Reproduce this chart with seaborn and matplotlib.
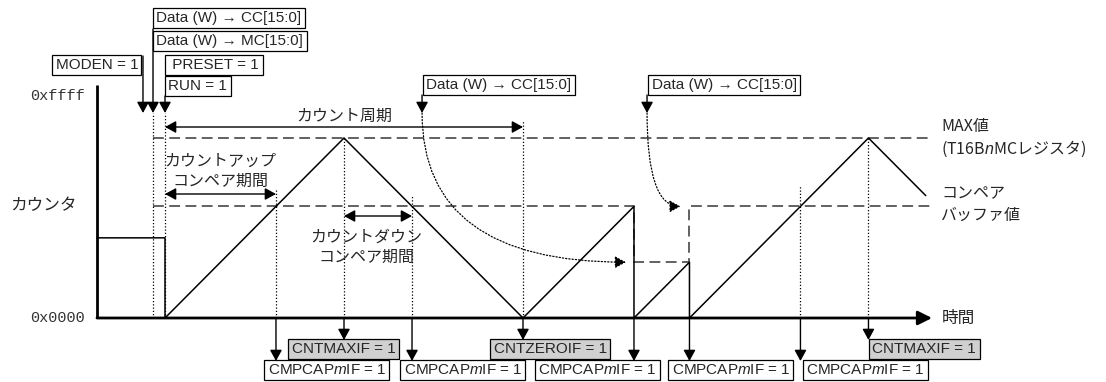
import matplotlib
matplotlib.use('Agg')
import matplotlib.pyplot as plt
import matplotlib.transforms as mtransforms
import seaborn as sns

sns.set_theme(style='white')
plt.rcParams['font.family'] = ['Liberation Sans', 'Noto Sans CJK JP', 'DejaVu Sans']
plt.rcParams['mathtext.fontset'] = 'custom'
plt.rcParams['mathtext.it'] = 'Liberation Sans:italic'
plt.rcParams['mathtext.rm'] = 'Liberation Sans'

# ---- data (time in arbitrary units, counter in raw counts) ----
FULL = 0xFFFF
counter_t = [-3.8, 0.0, 0.0, 10.0, 20.0, 26.2, 26.2, 29.3, 29.3, 39.3, 42.5]
counter_v = [0x7200, 0x7200, 0, FULL, 0, 0x9EB8, 0, 0x4F5C, 0, FULL, 0xAE14]
cmpbuf_t = [-0.67, 26.2, 26.2, 29.3, 29.3, 42.8]
cmpbuf_v = [0x9EB8, 0x9EB8, 0x4F5C, 0x4F5C, 0x9EB8, 0x9EB8]
max_t = [-0.67, 42.8]
max_v = [FULL, FULL]

moden_t = -1.23
write_t = -0.67     # CC / MC write
run_t = 0.0         # PRESET / RUN
cc_write_t = [14.36, 26.93]
cmp_t = [6.2, 13.8, 26.2, 29.3, 35.5]
cntmax_t = [10.0, 39.3]
cntzero_t = [20.0]

cmp_labels = ['CMPCAP$m$IF = 1'] * 5
cmp_box_x = [264, 400, 535, 668, 803]
cntmax_box_x = [288, 869]
cntzero_box_x = [490]

# ---- figure ----
W, H = 1106, 382
fig = plt.figure(figsize=(W / 100, H / 100), dpi=100)
ax = fig.add_axes([0, 0, 1, 1])
PXT = 17.9  # pixels per time unit
ax.set_xlim(-165 / PXT, (W - 165) / PXT)
ax.set_ylim((318 - H) / 180 * FULL, 318 / 180 * FULL)
ax.axis('off')
pix = mtransforms.IdentityTransform()


def vp(p):
    # counter value at a pixel row (layout helper)
    return (318 - p) / 180 * FULL


def box(x, y, s, gray=False, fs=11):
    ax.text(x + 3.5, H - y, s, transform=pix, ha='left', va='center', fontsize=fs,
            bbox=dict(boxstyle='square,pad=0.22', fc='#d0d0d0' if gray else 'white',
                      ec='black', lw=0.9))


arr = dict(arrowstyle='-|>,head_length=0.55,head_width=0.3', color='black', lw=1,
           shrinkA=0, shrinkB=0, mutation_scale=12)
darr = dict(arrowstyle='<|-|>,head_length=0.55,head_width=0.3', color='black', lw=1,
            shrinkA=0, shrinkB=0, mutation_scale=12)


def down(t, y0, y1):
    ax.annotate('', xy=(t, H - y1), xycoords=('data', 'figure pixels'),
                xytext=(t, H - y0), textcoords=('data', 'figure pixels'), arrowprops=arr)


# reference lines
sns.lineplot(x=max_t, y=max_v, ax=ax, color='#555555', lw=1.3, linestyle=(0, (6, 3)))
sns.lineplot(x=cmpbuf_t, y=cmpbuf_v, ax=ax, sort=False, estimator=None, color='#555555',
             lw=1.3, linestyle=(0, (6, 3)))

# event dotted markers
dot = (0, (1, 1.6))
ax.vlines([write_t, run_t], 0, vp(113), colors='black', lw=0.9, linestyles=[dot])
ax.vlines(cmp_t[:2] + cmp_t[4:], 0, [vp(190), vp(195), vp(185)], colors='black', lw=0.9,
          linestyles=[dot])
ax.vlines(cntmax_t, 0, FULL, colors='black', lw=0.9, linestyles=[dot])
ax.vlines(cntzero_t, 0, vp(121), colors='black', lw=0.9, linestyles=[dot])

# counter waveform
sns.lineplot(x=counter_t, y=counter_v, ax=ax, sort=False, estimator=None, color='black', lw=1.1)

# axes
ax.vlines(counter_t[0], 0, vp(85), colors='black', lw=2)
ax.annotate('', xy=(42.85, 0), xytext=(counter_t[0], 0),
            arrowprops=dict(arrowstyle='-|>,head_length=0.7,head_width=0.35', color='black',
                            lw=2, shrinkA=0, shrinkB=0, mutation_scale=12))
ax.text(85, H - 96, '0xffff', transform=pix, ha='right', va='center', fontsize=11,
        family='Liberation Mono', color='#333333')
ax.text(85, H - 318, '0x0000', transform=pix, ha='right', va='center', fontsize=11,
        family='Liberation Mono', color='#333333')
jp = ['Noto Sans CJK JP', 'DejaVu Sans']
ax.text(10, H - 206, 'カウンタ', transform=pix, ha='left', va='center', fontsize=12, family=jp)
ax.text(942, H - 318, '時間', transform=pix, ha='left', va='center', fontsize=12, family=jp)
ax.text(941, H - 127, 'MAX値', transform=pix, ha='left', va='center', fontsize=11.5, family=jp)
ax.text(941, H - 149, '(T16B$n$MCレジスタ)', transform=pix, ha='left', va='center',
        fontsize=11.5, family=jp)
ax.text(941, H - 194, 'コンペア', transform=pix, ha='left', va='center', fontsize=11.5, family=jp)
ax.text(941, H - 215, 'バッファ値', transform=pix, ha='left', va='center', fontsize=11.5, family=jp)

# period arrows
ax.annotate('', xy=(20, H - 127), xycoords=('data', 'figure pixels'),
            xytext=(0, H - 127), textcoords=('data', 'figure pixels'), arrowprops=darr)
ax.text(10, H - 116, 'カウント周期', transform=mtransforms.blended_transform_factory(ax.transData, pix),
        ha='center', va='center', fontsize=11.5, family=jp)
ax.annotate('', xy=(cmp_t[0], H - 194), xycoords=('data', 'figure pixels'),
            xytext=(0, H - 194), textcoords=('data', 'figure pixels'), arrowprops=darr)
ax.text(220, H - 171, 'カウントアップ\nコンペア期間', transform=pix, ha='center', va='center',
        fontsize=11.5, family=jp, linespacing=1.25)
ax.annotate('', xy=(cmp_t[1], H - 216), xycoords=('data', 'figure pixels'),
            xytext=(10, H - 216), textcoords=('data', 'figure pixels'), arrowprops=darr)
ax.text(366, H - 247, 'カウントダウン\nコンペア期間', transform=pix, ha='center', va='center',
        fontsize=11.5, family=jp, linespacing=1.25)

# top register writes
box(153, 18, 'Data (W) → CC[15:0]')
box(153, 41, 'Data (W) → MC[15:0]')
box(52, 65, 'MODEN = 1')
box(165, 65, ' PRESET = 1')
box(165, 86, 'RUN = 1')
down(moden_t, 56, 113)
down(write_t, 29, 113)
down(run_t, 96, 113)
for t in cc_write_t:
    box(423 + (t - cc_write_t[0]) * PXT, 85, 'Data (W) → CC[15:0]')
    down(t, 95, 113)

# curved transfer arrows
curv = dict(arrowstyle='-|>,head_length=0.55,head_width=0.3', color='black', lw=0.9,
            linestyle=(0, (1, 1.6)), shrinkA=0, shrinkB=0, mutation_scale=12,
            connectionstyle='angle3,angleA=90,angleB=0')
ax.annotate('', xy=(cmp_t[2] - 0.45, cmpbuf_v[2]), xycoords='data',
            xytext=(cc_write_t[0], H - 113), textcoords=('data', 'figure pixels'), arrowprops=curv)
ax.annotate('', xy=(cmp_t[3] - 0.5, cmpbuf_v[4]), xycoords='data',
            xytext=(cc_write_t[1], H - 113), textcoords=('data', 'figure pixels'), arrowprops=curv)

# interrupt flags
for t, x0, s in zip(cmp_t, cmp_box_x, cmp_labels):
    down(t, 318, 361)
    box(x0, 370, s)
for t, x0 in zip(cntmax_t, cntmax_box_x):
    down(t, 318, 340)
    box(x0, 349, 'CNTMAXIF = 1', gray=True)
for t, x0 in zip(cntzero_t, cntzero_box_x):
    down(t, 318, 340)
    box(x0, 349, 'CNTZEROIF = 1', gray=True)

fig.savefig('out.png', dpi=100)
